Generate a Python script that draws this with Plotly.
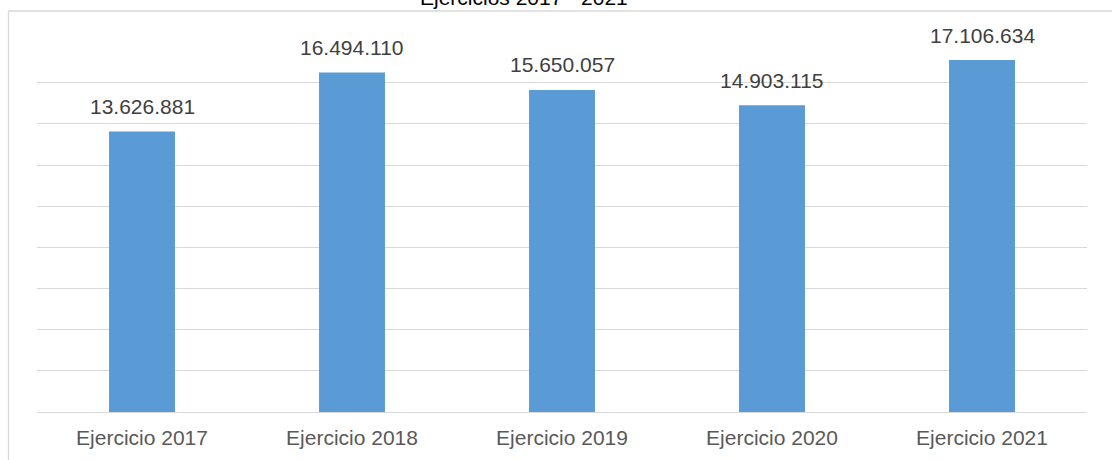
import plotly.graph_objects as go

categories = ["Ejercicio 2017", "Ejercicio 2018", "Ejercicio 2019", "Ejercicio 2020", "Ejercicio 2021"]
values = [13626881, 16494110, 15650057, 14903115, 17106634]
labels = ["13.626.881", "16.494.110", "15.650.057", "14.903.115", "17.106.634"]
title_text = "Ejercicios 2017 - 2021"

FONT = "Liberation Sans, Arial, sans-serif"
W, H = 1112, 460
OFF = 0  # body margin removed below
# plot area in screenshot pixels: x 37..1087, y 41..412
ml = 37 - OFF
mr = W - (1087 - OFF)
mt = 41 - OFF
mb = H - (412 - OFF)
pw, ph = W - ml - mr, H - mt - mb

def px_to_paper_x(px):
    return (px - OFF - ml) / pw

def px_to_paper_y(py):
    return (H - mb - (py - OFF)) / ph

fig = go.Figure()
fig.add_trace(go.Bar(
    x=categories, y=values,
    marker=dict(color="#5B9BD5", line=dict(width=0)),
    width=0.314,
    hoverinfo="skip",
))

annotations = []
for c, v, t in zip(categories, values, labels):
    annotations.append(dict(
        x=c, y=v, xref="x", yref="y", text=t, showarrow=False,
        yanchor="middle", yshift=25,
        font=dict(family=FONT, size=21, color="#404040"),
    ))
annotations.append(dict(
    x=px_to_paper_x(524), y=px_to_paper_y(-2.5), xref="paper", yref="paper",
    text=title_text, showarrow=False, xanchor="center", yanchor="middle",
    font=dict(family=FONT, size=21, color="#000000"),
))

shapes = [
    dict(type="line", xref="paper", yref="paper",
         x0=px_to_paper_x(8.5), x1=px_to_paper_x(1125),
         y0=px_to_paper_y(11), y1=px_to_paper_y(11),
         line=dict(color="#d9d9d9", width=1.3)),
    dict(type="line", xref="paper", yref="paper",
         x0=px_to_paper_x(8.5), x1=px_to_paper_x(8.5),
         y0=px_to_paper_y(11), y1=px_to_paper_y(475),
         line=dict(color="#d9d9d9", width=1.3)),
]

fig.update_layout(
    width=W, height=H,
    margin=dict(l=ml, r=mr, t=mt, b=mb, pad=0),
    paper_bgcolor="white", plot_bgcolor="white",
    showlegend=False,
    annotations=annotations,
    shapes=shapes,
    xaxis=dict(
        showgrid=False, zeroline=False, showline=False,
        ticks="", ticklabelstandoff=11,
        tickfont=dict(family=FONT, size=21, color="#595959"),
        fixedrange=True,
    ),
    yaxis=dict(
        range=[0, 18.03e6], dtick=2e6, tick0=0,
        showgrid=True, gridcolor="#d9d9d9", gridwidth=1.3,
        zeroline=True, zerolinecolor="#d9d9d9", zerolinewidth=1.3,
        showticklabels=False, ticks="", showline=False,
        fixedrange=True,
    ),
)

fig.write_html(
    "out.html",
    config={"displayModeBar": False},
    post_script="document.body.style.margin='0';document.body.style.overflow='hidden';",
)
